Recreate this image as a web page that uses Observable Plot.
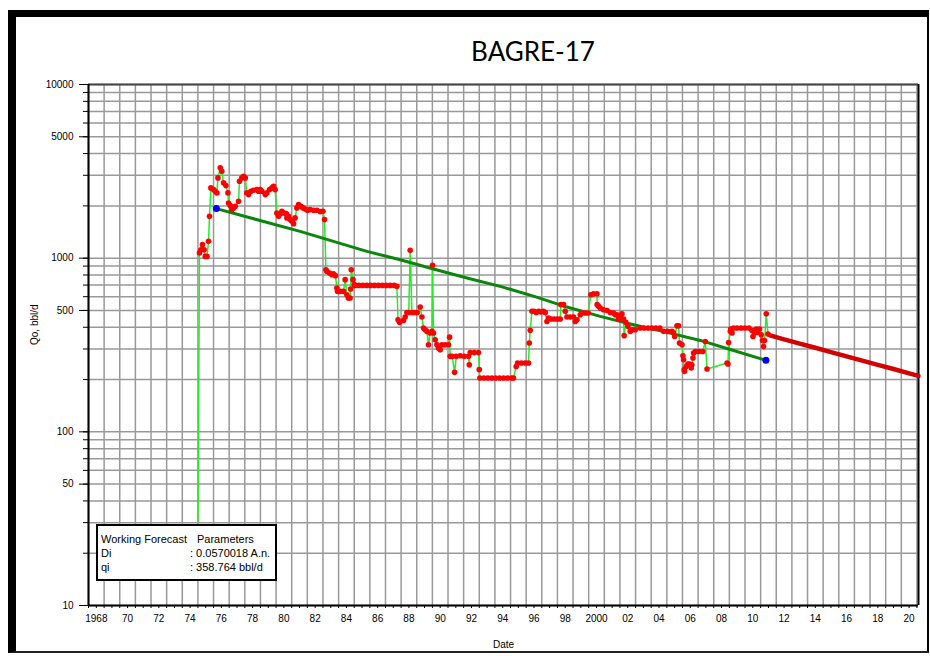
<!DOCTYPE html>
<html><head><meta charset="utf-8">
<script src="https://cdn.jsdelivr.net/npm/d3@7"></script>
<script src="https://cdn.jsdelivr.net/npm/@observablehq/plot@0.6"></script>
<style>
body{margin:0;background:#fff;}
#wrap{position:relative;width:930px;height:656px;overflow:hidden;font-family:"Liberation Sans",Arial,sans-serif;background:#fff;}
#chart{position:absolute;left:0;top:0;}
#frame{position:absolute;left:8px;top:10px;width:921px;height:643px;box-sizing:border-box;border-left:8px solid #000;border-top:7px solid #000;border-right:2px solid #000;border-bottom:2px solid #222;pointer-events:none;}
#title{position:absolute;left:383px;width:300px;top:36px;text-align:center;font-family:Lato,"Open Sans",sans-serif;font-size:26px;line-height:30px;color:#000;}
#legend{position:absolute;left:96px;top:524px;width:181px;height:57px;box-sizing:border-box;border:2px solid #000;background:#fff;font-size:11px;line-height:13px;color:#000;}
#legend span{position:absolute;white-space:nowrap;}
</style></head><body>
<div id="wrap">
  <div id="chart"></div>
  <div id="frame"></div>
  <div id="title">BAGRE-17</div>
  <div id="legend">
    <span style="left:3px;top:7px">Working Forecast</span>
    <span style="left:99px;top:7px">Parameters</span>
    <span style="left:3px;top:21px">Di</span>
    <span style="left:92px;top:21px">: 0.0570018 A.n.</span>
    <span style="left:3px;top:35px">qi</span>
    <span style="left:92px;top:35px">: 358.764 bbl/d</span>
  </div>
</div>
<script>
// ---- data (decimal year, oil rate bbl/d) ----
const history = [
[1975.00,25],[1975.10,1072],[1975.19,1119],[1975.29,1196],[1975.40,1119],[1975.47,1024],[1975.58,1024],[1975.68,1250],[1975.74,1741],[1975.83,2539],
[1976.00,2482],[1976.11,2427],[1976.21,2376],[1976.28,2899],[1976.43,3311],[1976.53,3164],[1976.64,2713],[1976.79,2617],[1976.92,2376],[1976.96,2080],
[1977.07,2007],[1977.17,1903],[1977.28,1947],[1977.39,1989],[1977.60,2126],[1977.66,2771],[1977.81,2899],[1977.92,2961],
[1978.03,2899],[1978.13,2376],[1978.24,2323],[1978.39,2427],[1978.56,2459],[1978.77,2482],[1978.88,2427],[1978.99,2482],
[1979.09,2427],[1979.31,2323],[1979.41,2376],[1979.58,2482],[1979.73,2539],[1979.84,2590],[1979.94,2482],
[1980.05,1817],[1980.16,1741],[1980.27,1805],[1980.37,1861],[1980.48,1822],[1980.65,1805],[1980.69,1705],[1980.80,1741],[1980.90,1667],
[1981.01,1630],[1981.12,1580],[1981.22,1705],[1981.33,1947],[1981.44,2034],[1981.59,1989],[1981.72,1947],[1981.87,1921],
[1982.01,1886],[1982.18,1903],[1982.40,1886],[1982.61,1886],[1982.82,1854],
[1983.00,1861],[1983.10,1667],[1983.19,858],[1983.25,839],[1983.42,822],[1983.57,803],[1983.67,814],[1983.80,793],[1983.89,673],[1983.93,644],
[1984.10,644],[1984.31,644],[1984.42,752],[1984.53,616],[1984.63,590],[1984.74,590],[1984.77,665],[1984.81,858],[1984.92,752],
[1985.00,704],[1985.06,697],[1985.30,697],[1985.55,697],[1985.80,697],[1986.05,697],[1986.30,697],[1986.55,697],[1986.80,697],[1987.05,697],[1987.30,697],[1987.55,697],[1987.73,688],
[1987.80,442],[1987.90,427],[1988.15,438],[1988.26,458],[1988.37,487],[1988.49,487],[1988.58,1109],[1988.69,487],[1988.84,487],
[1989.03,487],[1989.22,523],[1989.33,458],[1989.43,396],[1989.54,387],[1989.65,379],[1989.75,317],[1989.86,371],[1989.97,379],
[1990.01,909],[1990.07,371],[1990.18,339],[1990.29,317],[1990.39,304],[1990.50,297],[1990.61,317],[1990.82,317],
[1991.03,317],[1991.10,351],[1991.14,272],[1991.27,272],[1991.42,220],[1991.53,272],[1991.78,274],
[1992.04,272],[1992.31,272],[1992.36,243],[1992.42,286],[1992.68,286],[1992.95,286],
[1993.00,228],[1993.04,204],[1993.30,204],[1993.55,204],[1993.80,204],[1994.05,204],[1994.30,204],[1994.55,204],[1994.80,204],[1995.05,204],[1995.19,204],
[1995.36,238],[1995.45,249],[1995.70,249],[1995.95,249],[1996.15,249],[1996.20,325],[1996.26,384],[1996.37,494],[1996.50,494],[1996.65,487],[1996.80,494],[1996.95,490],
[1997.10,494],[1997.22,487],[1997.33,432],[1997.43,452],[1997.60,446],[1997.80,446],
[1998.00,446],[1998.18,446],[1998.22,540],[1998.39,540],[1998.50,494],[1998.61,458],[1998.82,458],
[1999.03,458],[1999.14,432],[1999.25,442],[1999.46,472],[1999.57,483],[1999.78,483],[1999.97,483],
[2000.14,616],[2000.31,624],[2000.53,624],[2000.54,540],[2000.63,528],[2000.74,516],[2000.95,505],
[2001.17,500],[2001.38,487],[2001.59,483],[2001.70,472],[2001.81,472],[2001.91,446],
[2002.02,462],[2002.13,479],[2002.23,446],[2002.27,358],[2002.38,427],[2002.51,405],[2002.66,379],[2002.77,387],[2002.98,387],
[2003.30,396],[2003.55,396],[2003.80,396],[2004.05,396],[2004.30,396],[2004.55,396],[2004.79,379],
[2005.05,379],[2005.33,379],[2005.43,371],[2005.50,354],[2005.65,408],[2005.75,408],[2005.81,325],[2005.97,317],
[2006.03,274],[2006.07,260],[2006.11,228],[2006.13,223],[2006.24,238],[2006.35,246],[2006.45,246],[2006.56,233],[2006.60,243],[2006.67,266],[2006.71,284],[2006.82,290],
[2007.05,290],[2007.30,290],[2007.46,331],[2007.57,230],
[2008.85,249],[2008.91,246],[2008.95,327],
[2009.06,379],[2009.09,391],[2009.17,371],[2009.27,396],[2009.50,396],[2009.75,396],
[2010.00,396],[2010.25,396],[2010.44,384],[2010.51,354],[2010.61,371],[2010.72,391],[2010.80,374],[2010.93,391],
[2011.04,362],[2011.12,336],[2011.19,310],[2011.25,336],[2011.36,479],[2011.47,366]
];
const fitLine = [[1976.18,1929],[1981.54,1427],[1983.67,1250],[1985.81,1094],[1987.94,980],[1990.07,866],[1992.21,769],[1994.34,688],[1996.47,605],[1998.61,523],[2000.74,462],[2002.87,414],[2005.01,374],[2007.14,336],[2009.27,294],[2011.34,258]];
const fitEnds = [[1976.18,1929],[2011.34,258]];
const forecast = [[2011.60,359],[2012.5,341],[2013.5,322],[2014.5,305],[2015.5,288],[2016.5,272],[2017.5,257],[2018.5,243],[2019.5,230],[2020.5,217],[2021.1,210]];

// ---- axes ----
const xDomain = [1968, 2021.1];
const yDomain = [10, 10000];
const yLabelTicks = [10, 50, 100, 500, 1000, 5000, 10000];
const yGridTicks = [10,20,30,40,50,60,70,80,90,100,200,300,400,500,600,700,800,900,1000,2000,3000,4000,5000,6000,7000,8000,9000,10000];
const yearGrid = d3.range(1968, 2022, 1);
const halfYearTicks = d3.range(1968, 2021.1, 0.5);
const xLabelYears = d3.range(1968, 2021, 2);
const xLabel = y => (y === 1968 || y === 2000) ? String(y) : String(y % 100).padStart(2, "0");

const X = d => d[0], Y = d => d[1];

const chart = Plot.plot({
  width: 930, height: 656,
  marginLeft: 88, marginRight: 12, marginTop: 84, marginBottom: 51,
  style: {fontFamily: "'Liberation Sans', Arial, sans-serif", fontSize: "10px", color: "#000", background: "transparent"},
  x: {type: "linear", domain: xDomain},
  y: {type: "log", domain: yDomain},
  marks: [
    Plot.gridX(yearGrid, {stroke: "#999", strokeOpacity: 1, strokeWidth: 1.5}),
    Plot.gridY(yGridTicks, {stroke: "#999", strokeOpacity: 1, strokeWidth: 1.5}),
    Plot.ruleY([yDomain[1]], {stroke: "#444", strokeWidth: 2}),
    Plot.ruleX([xDomain[1]], {stroke: "#000", strokeWidth: 2}),
    Plot.ruleX([xDomain[0]], {stroke: "#000", strokeWidth: 2}),
    Plot.ruleY([yDomain[0]], {stroke: "#000", strokeWidth: 2}),
    Plot.axisY(yGridTicks, {tickSize: 5, tickFormat: () => "", label: null}),
    Plot.axisY(yLabelTicks, {tickSize: 9, tickPadding: 6, tickFormat: d => String(d), label: null}),
    Plot.axisX(halfYearTicks, {tickSize: 3, tickFormat: () => "", label: null}),
    Plot.axisX(xLabelYears.map(y => y + 0.5), {tickSize: 0, tickPadding: 9, tickFormat: d => xLabel(Math.floor(d)), label: null}),
    Plot.text(["Qo, bbl/d"], {text: d => d, frameAnchor: "left", rotate: -90, dx: -54, fontSize: 10}),
    Plot.text(["Date"], {text: d => d, frameAnchor: "bottom", dy: 42, fontSize: 10}),
    Plot.line(history, {x: X, y: Y, stroke: "#22ee22", strokeWidth: 1.5}),
    Plot.line(fitLine, {x: X, y: Y, stroke: "#0a860a", strokeWidth: 3}),
    Plot.line(forecast, {x: X, y: Y, stroke: "#d20000", strokeWidth: 4.5}),
    Plot.dot(history, {x: X, y: Y, r: 2.8, fill: "#ff0000", stroke: null}),
    Plot.dot(fitEnds, {x: X, y: Y, r: 3.5, fill: "#0000ff", stroke: null})
  ]
});
document.getElementById("chart").appendChild(chart);
</script>
</body></html>
